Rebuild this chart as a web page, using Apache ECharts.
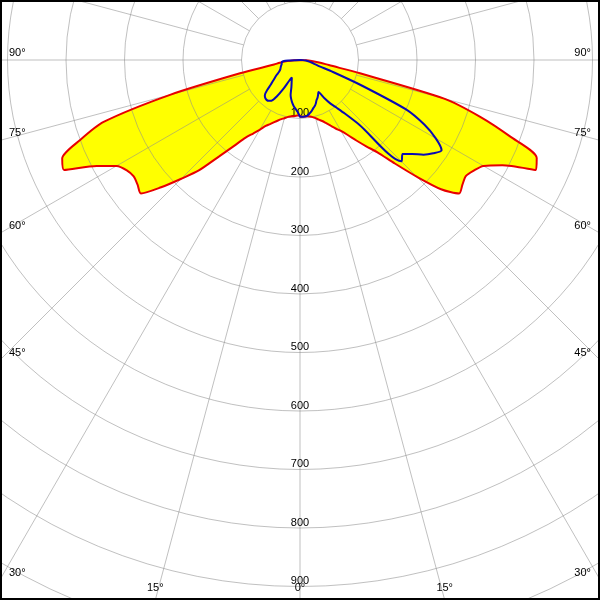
<!DOCTYPE html>
<html>
<head>
<meta charset="utf-8">
<script src="https://cdn.jsdelivr.net/npm/echarts@6/dist/echarts.min.js"></script>
<style>
  html, body { margin: 0; padding: 0; background: #fff; }
  #chart { width: 600px; height: 600px; }
</style>
</head>
<body>
<div id="chart"></div>
<script>
// gamma angles (deg from nadir) for every plane
const gammaAngles = [0, 2.5, 5, 7.5, 10, 12.5, 15, 17.5, 20, 22.5, 25, 27.5, 30, 32.5, 35, 37.5, 40, 42.5, 45,
  47.5, 50, 52.5, 55, 57.5, 60, 62.5, 65, 67.5, 70, 72.5, 75, 77.5, 80, 82.5, 85, 87.5, 90]

// C0 / C180 plane (red, filled)
const redRight = [97, 97, 97, 97, 98, 100, 103, 107, 111, 117, 124, 132, 140, 152, 168, 186, 206, 240, 282,
  327, 355, 350, 346, 352, 362, 390, 445, 438, 382, 323, 255, 105, 50, 35, 20, 10, 0]
const redLeft = [95, 95, 96, 97, 98, 100, 103, 106, 110, 115, 121, 127, 138, 149, 162, 185, 215, 256, 287,
  322, 355, 350, 347, 351, 362, 392, 445, 440, 400, 352, 230, 105, 45, 35, 22, 10, 0]

// C90 / C270 plane (blue)
const blueRight = [97, 97, 97, 96, 93, 90, 86, 83, 79, 74, 71, 67, 63, 77, 91, 103, 120, 150, 245,
  238, 250, 266, 278, 287, 268, 240, 200, 115, 60, 32, 25, 20, 16, 13, 10, 5, 0]
const blueLeft = [96, 89, 84, 80, 75, 69, 62, 49, 42, 37, 33, 40, 57, 74, 85, 88, 89, 88, 85,
  76, 65, 58, 52, 47, 42, 39, 37, 36, 35, 34, 33, 32, 32, 31, 31, 20, 0]

// axis labels
const angleLabels = [0, 15, 30, 45, 60, 75, 90]
const radiusMin = 100
const radiusMax = 1100
const radiusStep = 100

const center = [300, 60]
const pxPer100 = 58.5
const font = '"Liberation Sans", Arial, sans-serif'
const gridColor = 'rgba(140,140,140,0.55)'
const smooth = 0.25

// right half goes to 360 - gamma, left half to gamma
const planeData = (left, right) => {
  const pts = []
  for (let i = gammaAngles.length - 1; i >= 0; i--) pts.push([right[i], 360 - gammaAngles[i]])
  for (let i = 0; i < gammaAngles.length; i++) pts.push([left[i], gammaAngles[i]])
  return pts
}

// angle labels sit where each spoke leaves the frame
const angleTexts = []
angleLabels.forEach(a => {
  const rad = a * Math.PI / 180
  const sides = a === 0 ? [0] : [-1, 1]
  sides.forEach(side => {
    const yEdge = a === 0 ? Infinity : center[1] + 300 * Math.cos(rad) / Math.sin(rad)
    let x, y, align
    if (yEdge <= 590) {
      x = side < 0 ? 9 : 591
      y = yEdge - 7
      align = side < 0 ? 'left' : 'right'
    } else {
      x = center[0] + side * 540 * Math.tan(rad)
      y = 588
      align = 'center'
    }
    angleTexts.push({
      type: 'text', x, y, z: 50,
      style: { text: a + '°', font: '11px ' + font, fill: '#000', align, verticalAlign: 'middle' }
    })
  })
})

const chart = echarts.init(document.getElementById('chart'))
chart.setOption({
  animation: false,
  backgroundColor: '#fff',
  polar: [
    { center, radius: [pxPer100 * radiusMin / 100, pxPer100 * radiusMax / 100] },
    { center, radius: [0, pxPer100 * radiusMax / 100] }
  ],
  angleAxis: [
    {
      polarIndex: 0, type: 'value', min: 0, max: 360, interval: 15, startAngle: 270, z: 2,
      axisLine: { show: false }, axisTick: { show: false }, axisLabel: { show: false },
      splitLine: { show: true, lineStyle: { color: gridColor, width: 1 } }
    },
    {
      polarIndex: 1, type: 'value', min: 0, max: 360, startAngle: 270,
      axisLine: { show: false }, axisTick: { show: false }, axisLabel: { show: false },
      splitLine: { show: false }
    }
  ],
  radiusAxis: [
    {
      polarIndex: 0, type: 'value', min: radiusMin, max: radiusMax, interval: radiusStep, z: 2,
      axisLine: { show: false }, axisTick: { show: false },
      axisLabel: {
        margin: 0, rotate: 0, align: 'center', verticalAlign: 'bottom',
        fontSize: 11, fontFamily: font, color: '#000'
      },
      splitLine: { show: true, lineStyle: { color: gridColor, width: 1 } }
    },
    {
      polarIndex: 1, type: 'value', min: 0, max: radiusMax,
      axisLine: { show: false }, axisTick: { show: false }, axisLabel: { show: false },
      splitLine: { show: false }
    }
  ],
  series: [
    {
      type: 'line', coordinateSystem: 'polar', polarIndex: 1, z: 1, smooth,
      data: planeData(redLeft, redRight), symbol: 'none',
      lineStyle: { width: 0 },
      areaStyle: { color: '#ffff00', opacity: 1 }
    },
    {
      type: 'line', coordinateSystem: 'polar', polarIndex: 1, z: 3, smooth,
      data: planeData(redLeft, redRight), symbol: 'none',
      lineStyle: { color: '#e80000', width: 2 }
    },
    {
      type: 'line', coordinateSystem: 'polar', polarIndex: 1, z: 4, smooth,
      data: planeData(blueLeft, blueRight), symbol: 'none',
      lineStyle: { color: '#0a0ab4', width: 2 }
    }
  ],
  graphic: [
    ...angleTexts,
    {
      type: 'rect', z: 100, silent: true,
      shape: { x: 1, y: 1, width: 598, height: 598 },
      style: { fill: 'none', stroke: '#000', lineWidth: 2 }
    }
  ]
})
</script>
</body>
</html>
